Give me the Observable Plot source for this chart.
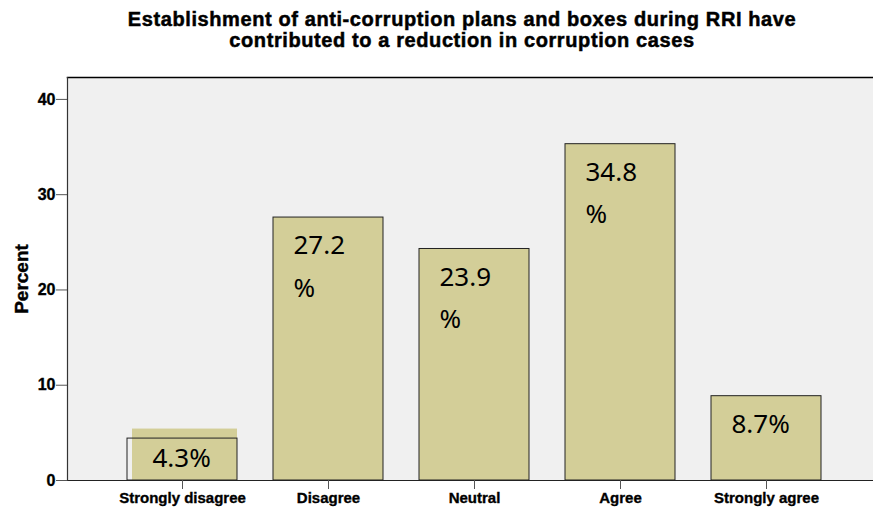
<!DOCTYPE html>
<html>
<head>
<meta charset="utf-8">
<script src="https://cdn.jsdelivr.net/npm/d3@7"></script>
<script src="https://cdn.jsdelivr.net/npm/@observablehq/plot@0.6"></script>
<style>
  html, body { margin: 0; padding: 0; background: #ffffff; }
  #title {
    box-sizing: border-box;
    width: 873px; height: 60px;
    padding-top: 9px; padding-left: 51px;
    text-align: center;
    font-family: "Liberation Sans", Arial, sans-serif;
    font-weight: bold; font-size: 20px; line-height: 21px;
    letter-spacing: 0.6px;
    -webkit-text-stroke: 0.5px #000;
    color: #000;
  }
  #title span { display: inline-block; white-space: nowrap; }
  #chart svg g[aria-label="y-axis tick label"] text,
  #chart svg g[aria-label="x-axis tick label"] text { stroke: #000; stroke-width: 0.35px; }
</style>
</head>
<body>
<div id="title"><span id="t1">Establishment of anti-corruption plans and boxes during RRI have</span><br><span id="t2">contributed to a reduction in corruption cases</span></div>
<div id="chart"></div>
<script>
// ---- data ----
const categories = ["Strongly disagree", "Disagree", "Neutral", "Agree", "Strongly agree"];
const barHeights = [4.4, 27.6, 24.3, 35.3, 8.85];
const labelTexts = ["4.3%", "27.2\n%", "23.9\n%", "34.8\n%", "8.7%"];
// the label background box drawn over the first bar
const boxCategories = ["Strongly disagree"];
const boxHeights = [5.4];
const yTicks = [0, 10, 20, 30, 40];
const yMax = 42.3;

const tan = "#d3ce98";
const bars = categories.map((c, i) => ({cat: c, value: barHeights[i], label: labelTexts[i]}));
const boxes = boxCategories.map((c, i) => ({cat: c, value: boxHeights[i]}));
const boxedLabels = bars.filter(d => boxCategories.includes(d.cat)).map(d => ({...d, value: boxes.find(b => b.cat === d.cat).value}));
const plainLabels = bars.filter(d => !boxCategories.includes(d.cat));

const chart = Plot.plot({
  width: 873,
  height: 448,
  marginLeft: 67,
  marginRight: 0,
  marginTop: 17,
  marginBottom: 28,
  style: {fontFamily: "'Liberation Sans', Arial, sans-serif", fontWeight: "bold", color: "#000", background: "#fff"},
  x: {domain: categories, paddingInner: 0.25, paddingOuter: 0.3755, align: 0.536, label: null},
  y: {domain: [0, yMax], label: null},
  marks: [
    Plot.frame({fill: "#f0f0f0", stroke: null}),
    Plot.barY(boxes, {x: "cat", y: "value", fill: tan, insetLeft: 5}),
    Plot.barY(bars, {x: "cat", y: "value", fill: d => boxCategories.includes(d.cat) ? "none" : tan, stroke: "#222", strokeWidth: 1}),
    Plot.frame({anchor: "top", stroke: "#000", strokeWidth: 1.5}),
    Plot.frame({anchor: "bottom", stroke: "#222", strokeWidth: 1.2}),
    Plot.frame({anchor: "left", stroke: "#333", strokeWidth: 1.2}),
    Plot.axisY({ticks: yTicks, tickSize: 11, tickPadding: 1, fontSize: 16, fontWeight: "bold", stroke: "#555", label: null}),
    Plot.axisX({tickSize: 9, tickPadding: 3, fontSize: 15, fontWeight: "bold", stroke: "#555", label: null}),
    Plot.text(["Percent"], {frameAnchor: "left", textAnchor: "middle", rotate: -90, dx: -46, fontSize: 19, fontWeight: "bold", fill: "#000", stroke: "#000", strokeWidth: 0.4}),
    Plot.text(plainLabels, {x: "cat", y: "value", text: "label", textAnchor: "start", lineAnchor: "top", dx: -35, dy: 7, lineHeight: 1.62, fontSize: 26, fontWeight: "normal", fontFamily: "'Noto Sans', 'Open Sans', sans-serif", fill: "#000"}),
    Plot.text(boxedLabels, {x: "cat", y: "value", text: "label", textAnchor: "start", lineAnchor: "top", dx: -30, dy: 8, lineHeight: 1.62, fontSize: 26, fontWeight: "normal", fontFamily: "'Noto Sans', 'Open Sans', sans-serif", fill: "#000"})
  ]
});
document.getElementById("chart").appendChild(chart);
</script>
</body>
</html>
